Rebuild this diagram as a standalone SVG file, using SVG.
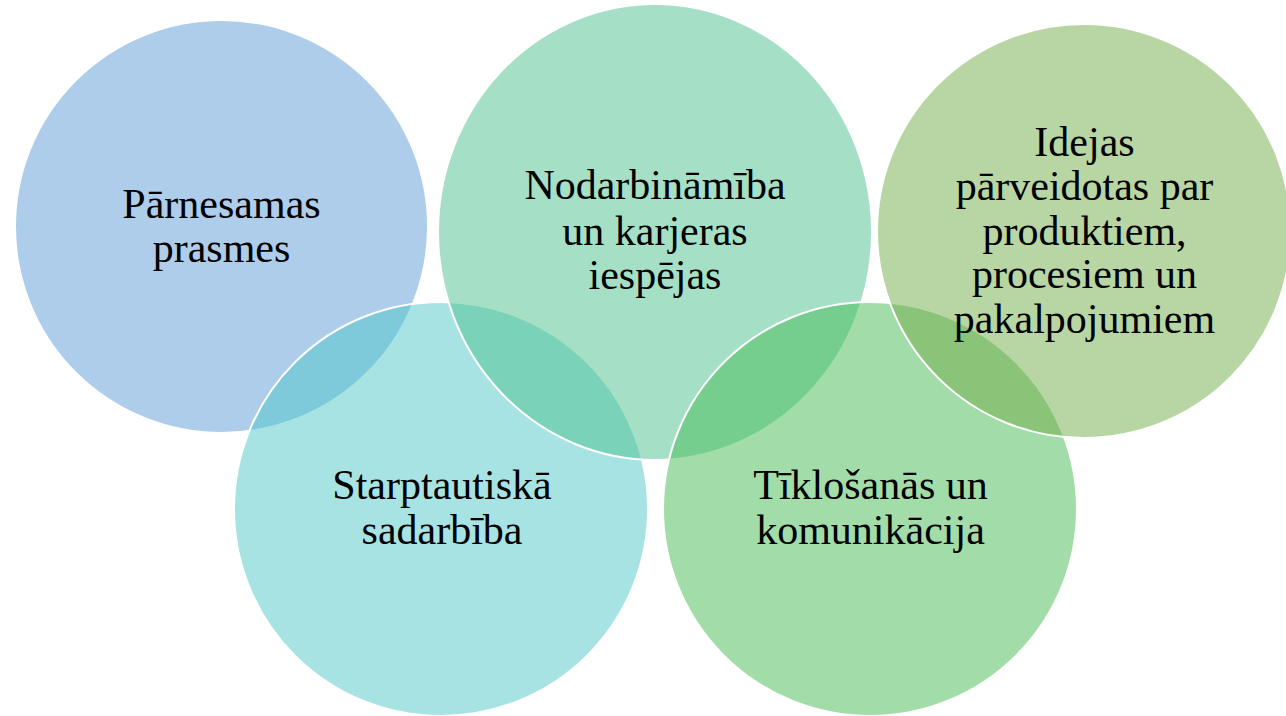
<svg xmlns="http://www.w3.org/2000/svg" width="1286" height="716" viewBox="0 0 1286 716">
  <style>
    .c { stroke: #ffffff; stroke-width: 2; fill-opacity: 0.5; }
    .t { font-family: "Liberation Serif", "Times New Roman", serif; font-size: 42px; fill: #000000; text-anchor: middle; }
  </style>
  <rect x="0" y="0" width="1286" height="716" fill="#ffffff"/>
  <g id="connectors"/>
  <g id="node-parnesamas">
    <circle class="c" cx="221.5" cy="226.5" r="206.5" fill="#5B9BD5"/>
    <text class="t" x="221.5" y="217.7">Pārnesamas</text>
    <text class="t" x="221.5" y="261.7">prasmes</text>
  </g>
  <g id="node-starptautiska">
    <circle class="c" cx="441" cy="509" r="207" fill="#51C7C9"/>
    <text class="t" x="442" y="499">Starptautiskā</text>
    <text class="t" x="442" y="544">sadarbība</text>
  </g>
  <g id="node-nodarbinamiba">
    <ellipse class="c" cx="655" cy="232" rx="217" ry="228" fill="#4BC18D"/>
    <text class="t" x="655" y="199.3">Nodarbinām&#299;ba</text>
    <text class="t" x="655" y="245">un karjeras</text>
    <text class="t" x="655" y="288.5">iespējas</text>
  </g>
  <g id="node-tiklosanas">
    <circle class="c" cx="870" cy="509" r="207" fill="#45BB53"/>
    <text class="t" x="870.5" y="499">Tīklošanās un</text>
    <text class="t" x="870.5" y="544">komunikācija</text>
  </g>
  <g id="node-idejas">
    <circle class="c" cx="1084" cy="231" r="207" fill="#71AB49"/>
    <text class="t" x="1084.5" y="156">Idejas</text>
    <text class="t" x="1084.5" y="200">pārveidotas par</text>
    <text class="t" x="1084.5" y="245">produktiem,</text>
    <text class="t" x="1084.5" y="288">procesiem un</text>
    <text class="t" x="1084.5" y="332.7">pakalpojumiem</text>
  </g>
</svg>
